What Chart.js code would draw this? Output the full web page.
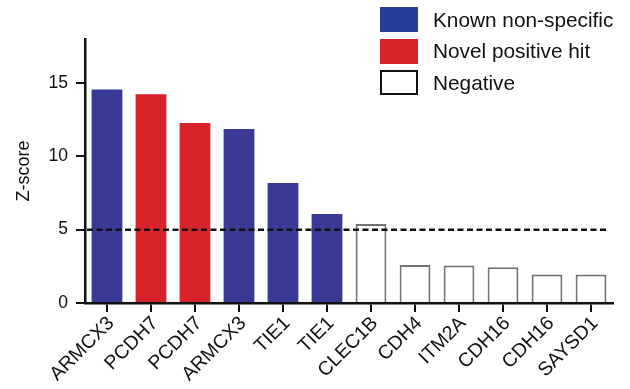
<!DOCTYPE html>
<html>
<head>
<meta charset="utf-8">
<script src="https://cdn.jsdelivr.net/npm/chart.js@4/dist/chart.umd.min.js"></script>
<style>
  html, body { margin: 0; padding: 0; background: #fff; }
  #wrap { position: relative; width: 630px; height: 389px; }
  #c { position: absolute; left: 0; top: 0; }
  #legend { position: absolute; left: 380px; top: 7px; font-family: "Liberation Sans", Arial, sans-serif; font-size: 20.8px; color: #111; }
  .item { display: flex; align-items: center; height: 25px; margin-bottom: 6.5px; }
  .box { width: 38px; height: 25px; box-sizing: border-box; margin-right: 15px; }
</style>
</head>
<body>
<div id="wrap">
  <canvas id="c" width="630" height="389"></canvas>
  <div id="legend"></div>
</div>
<script>
// ---- data ----
const categories = ['ARMCX3', 'PCDH7', 'PCDH7', 'ARMCX3', 'TIE1', 'TIE1', 'CLEC1B', 'CDH4', 'ITM2A', 'CDH16', 'CDH16', 'SAYSD1'];
const zScores = [14.55, 14.23, 12.27, 11.86, 8.18, 6.07, 5.38, 2.59, 2.55, 2.43, 1.95, 1.95];
const groups = ['known', 'novel', 'novel', 'known', 'known', 'known', 'neg', 'neg', 'neg', 'neg', 'neg', 'neg'];
const groupKeys = ['known', 'novel', 'neg'];
const groupLabels = ['Known non-specific', 'Novel positive hit', 'Negative'];
const yTicks = [0, 5, 10, 15];
const yMax = 18;
const threshold = 5;

// ---- styles ----
const fillColors = { known: '#383a94', novel: '#d9232a', neg: '#ffffff' };
const edgeColors = { known: '#383a94', novel: '#d9232a', neg: '#6f7474' };
const legendFill = { known: '#263e96', novel: '#d9232a', neg: '#ffffff' };
const legendEdge = { known: '#263e96', novel: '#d9232a', neg: '#111111' };
const FONT = '"Liberation Sans", Arial, sans-serif';

// legend (HTML, real text)
const legendEl = document.getElementById('legend');
groupKeys.forEach((k, i) => {
  const it = document.createElement('div');
  it.className = 'item';
  const b = document.createElement('div');
  b.className = 'box';
  b.style.background = legendFill[k];
  b.style.border = (k === 'neg' ? '2.5px' : '1px') + ' solid ' + legendEdge[k];
  const t = document.createElement('span');
  t.textContent = groupLabels[i];
  it.appendChild(b); it.appendChild(t);
  legendEl.appendChild(it);
});

const thresholdPlugin = {
  id: 'threshold',
  afterDatasetsDraw(chart) {
    const { ctx, scales: { x, y }, chartArea } = chart;
    const py = y.getPixelForValue(threshold);
    const meta = chart.getDatasetMeta(0);
    const last = meta.data[meta.data.length - 1];
    const xEnd = last.x + last.width / 2;
    ctx.save();
    ctx.beginPath();
    ctx.setLineDash([6, 3.5]);
    ctx.lineWidth = 2.5;
    ctx.strokeStyle = '#111';
    ctx.moveTo(chartArea.left + 2, py);
    ctx.lineTo(xEnd, py);
    ctx.stroke();
    ctx.restore();
  }
};

new Chart(document.getElementById('c'), {
  type: 'bar',
  data: {
    labels: categories,
    datasets: [{
      data: zScores,
      backgroundColor: groups.map(g => fillColors[g]),
      borderColor: groups.map(g => edgeColors[g]),
      borderWidth: groups.map(g => g === 'neg' ? 2 : 0),
      borderSkipped: 'start',
      categoryPercentage: 1,
      barPercentage: 0.7
    }]
  },
  options: {
    responsive: false,
    animation: false,
    events: [],
    layout: { padding: { top: 39, right: 17, left: 0, bottom: 0 } },
    plugins: { legend: { display: false }, tooltip: { enabled: false } },
    scales: {
      x: {
        offset: true,
        grid: { offset: false, drawOnChartArea: false, drawTicks: true, tickLength: 9, color: '#111', lineWidth: 2 },
        border: { display: true, color: '#111', width: 2.5 },
        ticks: { font: { family: FONT, size: 19.5 }, color: '#111', maxRotation: 45, minRotation: 45, padding: 0, labelOffset: 4, autoSkip: false },
        afterFit(scale) { scale.height = 86; }
      },
      y: {
        min: 0,
        max: yMax,
        grid: { drawOnChartArea: false, drawTicks: true, tickLength: 9, color: '#111', lineWidth: 2 },
        border: { display: true, color: '#111', width: 2.5 },
        ticks: { font: { family: FONT, size: 17.5 }, color: '#111', padding: 8 },
        afterBuildTicks(scale) { scale.ticks = yTicks.map(v => ({ value: v })); },
        title: { display: true, text: 'Z-score', font: { family: FONT, size: 18 }, color: '#111', padding: { top: 13, bottom: 0 } },
        afterFit(scale) { scale.width = 85; }
      }
    }
  },
  plugins: [thresholdPlugin]
});
</script>
</body>
</html>
